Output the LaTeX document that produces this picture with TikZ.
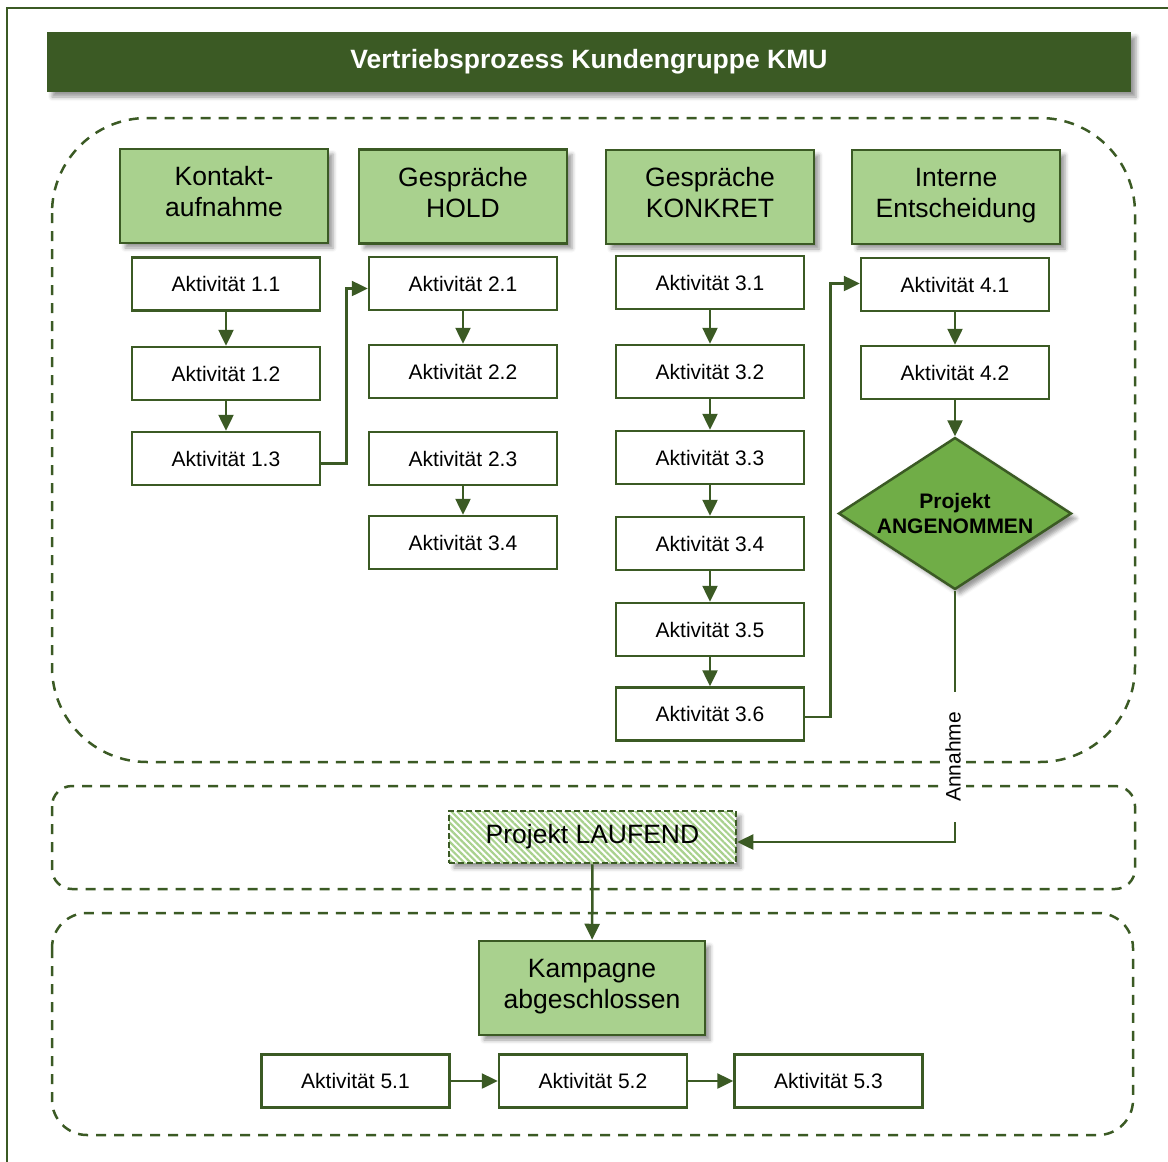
\documentclass[tikz,border=0pt]{standalone}
\usepackage{fontspec}
\setmainfont{Liberation Sans}
\usetikzlibrary{shapes.geometric,arrows.meta,shadows.blur,patterns.meta}
\definecolor{dkgreen}{HTML}{3B5A24}
\definecolor{ltgreen}{HTML}{A9D18E}
\definecolor{midgreen}{HTML}{70AD47}

\begin{document}
\begin{tikzpicture}[x=1pt,y=-1pt,
  flow/.style={draw=dkgreen, line width=2.5pt, -{Triangle[length=16pt,width=15pt]}, fill=none},
  plainline/.style={draw=dkgreen, line width=2.5pt},
  region/.style={draw=dkgreen, line width=2.5pt, dash pattern=on 10pt off 8pt},
  softshadow/.style={blur shadow={shadow xshift=5pt, shadow yshift=-5pt, shadow blur radius=4pt, shadow opacity=40}},
  titlebar/.style={fill=dkgreen, minimum width=1084pt, minimum height=60pt, text=white,
    font=\fontsize{26.5}{30}\selectfont\bfseries, softshadow},
  phasetext/.style={align=center, font=\fontsize{26.5}{31}\selectfont, inner sep=0pt, yshift=1pt},
  phase/.style={softshadow, fill=ltgreen, draw=dkgreen, line width=2.5pt, minimum width=208pt, minimum height=94pt,
    label={[phasetext]center:{#1}}},
  act/.style={fill=white, draw=dkgreen, line width=2.5pt, minimum width=188pt, minimum height=53pt,
    font=\fontsize{21}{25}\selectfont},
  decision/.style={softshadow, shape=diamond, shape aspect=1.53, fill=midgreen, draw=dkgreen, line width=2.5pt, inner sep=0pt,
    minimum width=233pt, minimum height=152pt, align=center, font=\fontsize{21}{25}\selectfont\bfseries},
  running/.style={softshadow, preaction={fill=white}, pattern={Lines[angle=-45,distance=4.5pt,line width=2.2pt]},
    pattern color=ltgreen, draw=dkgreen, line width=2.5pt, dash pattern=on 6pt off 3pt,
    minimum width=287pt, minimum height=52pt, font=\fontsize{26.5}{31}\selectfont},
  edgelabel/.style={rotate=90, fill=white, inner xsep=20pt, inner ysep=5pt, font=\fontsize{21}{25}\selectfont}
]
\useasboundingbox (0,0) rectangle (1168,1162);

% outer frame
\draw[plainline] (7,1175) -- (7,8) -- (1180,8);

% grouping regions
\draw[region, rounded corners=95pt] (52,118) rectangle (1135,762);
\draw[region, rounded corners=20pt] (52,786) rectangle (1135,889);
\draw[region, rounded corners=35pt] (52,913) rectangle (1133,1135);

% title
\node[titlebar] (title) at (589,62) {Vertriebsprozess Kundengruppe KMU};

% phase headers
\node[phase={\strut Kontakt-\\\strut aufnahme}] (p1) at (224,196) {};
\node[phase={\strut Gespräche\\\strut HOLD}] (p2) at (463,196.5) {};
\node[phase={\strut Gespräche\\\strut KONKRET}] (p3) at (710,197) {};
\node[phase={\strut Interne\\\strut Entscheidung}] (p4) at (956,197) {};

% activities, column 1
\node[act] (a11) at (226,284) {Aktivität 1.1};
\node[act] (a12) at (226,373.5) {Aktivität 1.2};
\node[act] (a13) at (226,458.5) {Aktivität 1.3};
% column 2
\node[act] (a21) at (463,283.5) {Aktivität 2.1};
\node[act] (a22) at (463,371.5) {Aktivität 2.2};
\node[act] (a23) at (463,458.5) {Aktivität 2.3};
\node[act] (a24) at (463,542.5) {Aktivität 3.4};
% column 3
\node[act] (a31) at (710,282.5) {Aktivität 3.1};
\node[act] (a32) at (710,371.5) {Aktivität 3.2};
\node[act] (a33) at (710,457.5) {Aktivität 3.3};
\node[act] (a34) at (710,543.5) {Aktivität 3.4};
\node[act] (a35) at (710,629.5) {Aktivität 3.5};
\node[act] (a36) at (710,714) {Aktivität 3.6};
% column 4
\node[act] (a41) at (955,284.5) {Aktivität 4.1};
\node[act] (a42) at (955,372.5) {Aktivität 4.2};
\node[decision] (dec) at (955,513.5) {Projekt\\ANGENOMMEN};

% running project and closing
\node[running] (run) at (592.5,837) {Projekt LAUFEND};
\node[phase={\strut Kampagne\\\strut abgeschlossen}, minimum width=226pt] (done) at (592,988) {};
\node[act] (a51) at (355.5,1081) {Aktivität 5.1};
\node[act] (a52) at (593,1081) {Aktivität 5.2};
\node[act] (a53) at (828.5,1081) {Aktivität 5.3};

% connectors
\draw[flow] (a11) -- (a12);
\draw[flow] (a12) -- (a13);
\draw[flow] ([yshift=-5pt]a13.east) -- ++(25,0) |- ([yshift=-5pt]a21.west);
\draw[flow] (a21) -- (a22);
\draw[flow] (a23) -- (a24);
\draw[flow] (a31) -- (a32);
\draw[flow] (a32) -- (a33);
\draw[flow] (a33) -- (a34);
\draw[flow] (a34) -- (a35);
\draw[flow] (a35) -- (a36);
\draw[flow] ([yshift=-3pt]a36.east) -- ++(25,0) |- ([yshift=1pt]a41.west);
\draw[flow] (a41) -- (a42);
\draw[flow] (a42.south) -- (dec.north);
\draw[flow] (dec.south) |- ([yshift=-5pt]run.east);
\draw[flow] (run) -- (done);
\draw[flow] (a51) -- (a52);
\draw[flow] (a52) -- (a53);

% label on the acceptance branch
\node[edgelabel] (ann) at (953,757) {Annahme};
\end{tikzpicture}
\end{document}
